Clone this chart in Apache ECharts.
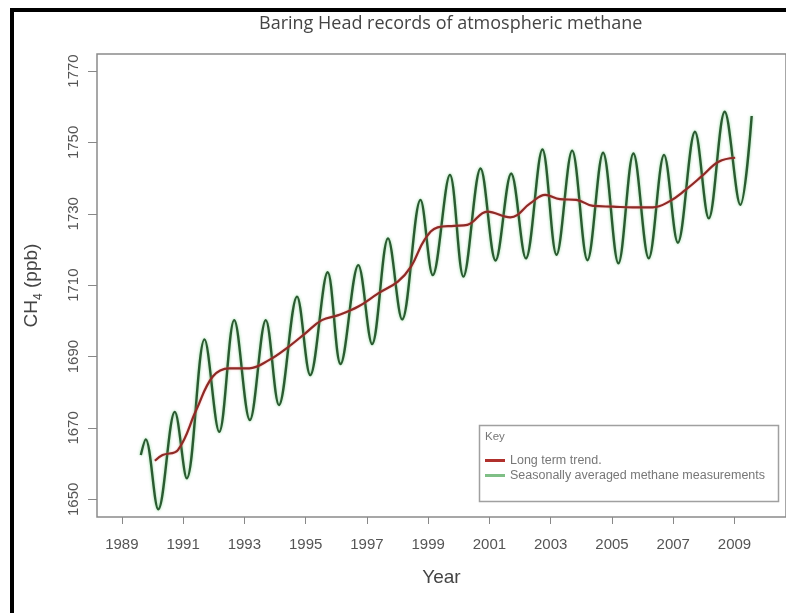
<!DOCTYPE html>
<html>
<head>
<meta charset="utf-8">
<script src="https://cdn.jsdelivr.net/npm/echarts@6/dist/echarts.min.js"></script>
<style>
  html, body { margin: 0; padding: 0; background: #fff; }
  #chart { width: 786px; height: 613px; }
</style>
</head>
<body>
<div id="chart"></div>
<script>
// seasonal curve: turning points (year, ppb)
const seasonalYears = [1989.62, 1989.78, 1990.19, 1990.73, 1991.12, 1991.70, 1992.18, 1992.67, 1993.18, 1993.70,
  1994.13, 1994.72, 1995.15, 1995.72, 1996.14, 1996.72, 1997.17, 1997.69, 1998.15, 1998.75,
  1999.15, 1999.71, 2000.15, 2000.71, 2001.20, 2001.71, 2002.19, 2002.73, 2003.19, 2003.70,
  2004.20, 2004.71, 2005.21, 2005.70, 2006.20, 2006.70, 2007.15, 2007.71, 2008.16, 2008.68,
  2009.19, 2009.56];
const seasonalValues = [1662.4, 1666.8, 1647.2, 1674.5, 1655.9, 1694.8, 1668.9, 1700.2, 1672.2, 1700.2,
  1676.4, 1706.8, 1684.8, 1713.6, 1687.9, 1715.6, 1693.5, 1723.1, 1700.4, 1733.9,
  1712.8, 1740.9, 1712.4, 1742.7, 1716.9, 1741.3, 1717.5, 1748.0, 1718.5, 1747.7,
  1717.0, 1747.1, 1716.1, 1746.9, 1717.5, 1746.5, 1721.9, 1753.0, 1728.7, 1758.6,
  1732.5, 1757.4];

// long term trend
const trendYears = [1990.08, 1990.33, 1990.83, 1991.43, 1991.97, 1992.51, 1993.16, 1993.80, 1994.45, 1994.99,
  1995.53, 1996.07, 1996.72, 1997.37, 1998.01, 1998.44, 1998.88, 1999.31, 1999.85, 2000.28,
  2000.93, 2001.68, 2002.33, 2002.82, 2003.30, 2003.84, 2004.38, 2005.03, 2005.68, 2006.33,
  2006.86, 2007.40, 2007.94, 2008.48, 2009.02];
const trendValues = [1660.8, 1662.4, 1663.8, 1675.0, 1684.4, 1686.7, 1686.7, 1689.0, 1692.8, 1696.5,
  1700.2, 1701.6, 1704.0, 1707.7, 1711.0, 1715.2, 1722.7, 1726.2, 1726.6, 1726.9,
  1730.6, 1729.0, 1732.9, 1735.3, 1734.1, 1733.9, 1732.2, 1732.0, 1731.8, 1731.8,
  1733.4, 1736.7, 1740.6, 1744.6, 1745.7];

const xTicks = [1989, 1991, 1993, 1995, 1997, 1999, 2001, 2003, 2005, 2007, 2009];
const yTicks = [1650, 1670, 1690, 1710, 1730, 1750, 1770];

const seasonalName = 'Seasonally averaged methane measurements';
const trendName = 'Long term trend.';

const zip = (xs, ys) => xs.map((x, i) => [x, ys[i]]);

const font = '"Liberation Sans", Arial, sans-serif';
const chart = echarts.init(document.getElementById('chart'));

const option = {
  animation: false,
  backgroundColor: '#fff',
  title: {
    text: 'Baring Head records of atmospheric methane',
    left: 254,
    top: 10,
    textStyle: { fontFamily: '"Open Sans", sans-serif', fontSize: 18, fontWeight: 'normal', color: '#444' }
  },
  grid: {
    left: 97, top: 54, bottom: 96, right: -6,
    show: true, borderColor: '#8a8a8a', borderWidth: 1.5
  },
  legend: {
    data: [trendName, seasonalName],
    orient: 'vertical',
    left: 485,
    top: 454,
    icon: 'rect',
    itemWidth: 20,
    itemHeight: 3,
    itemGap: 2,
    padding: 0,
    z: 20,
    textStyle: { fontFamily: font, fontSize: 12.5, color: '#777', lineHeight: 13 }
  },
  xAxis: {
    type: 'value',
    min: 1988.19,
    max: 2010.68,
    name: 'Year',
    nameLocation: 'middle',
    nameGap: 51,
    nameTextStyle: { fontFamily: font, fontSize: 19, color: '#444' },
    axisLine: { show: false },
    axisTick: { show: true, length: 7, customValues: xTicks, lineStyle: { color: '#888' } },
    axisLabel: { customValues: xTicks, margin: 20, fontFamily: font, fontSize: 15, color: '#555',
      formatter: v => String(v) },
    splitLine: { show: false }
  },
  yAxis: {
    type: 'value',
    min: 1645.04,
    max: 1774.77,
    name: '{a|CH}{s|4}{a| (ppb)}',
    nameLocation: 'middle',
    nameGap: 52,
    nameRotate: 90,
    nameTextStyle: {
      rich: {
        a: { fontFamily: font, fontSize: 19, color: '#444' },
        s: { fontFamily: font, fontSize: 12, color: '#444', verticalAlign: 'bottom', lineHeight: 26 }
      }
    },
    axisLine: { show: false },
    axisTick: { show: true, length: 9, customValues: yTicks, lineStyle: { color: '#888' } },
    axisLabel: { customValues: yTicks, rotate: 90, margin: 16, fontFamily: font, fontSize: 15, color: '#555',
      formatter: v => String(v) },
    splitLine: { show: false }
  },
  series: [
    {
      name: seasonalName,
      type: 'line',
      data: zip(seasonalYears, seasonalValues),
      showSymbol: false,
      smooth: 0.35,
      lineStyle: { color: '#2b5a31', width: 2.4, shadowColor: 'rgba(90,200,110,0.7)', shadowBlur: 3 },
      itemStyle: { color: '#7fbf86' },
      z: 2
    },
    {
      name: trendName,
      type: 'line',
      data: zip(trendYears, trendValues),
      showSymbol: false,
      smooth: 0.4,
      lineStyle: { color: '#8e2a26', width: 2.2, shadowColor: 'rgba(240,120,120,0.6)', shadowBlur: 2 },
      itemStyle: { color: '#b0302c' },
      z: 3
    }
  ],
  graphic: [
    // outer frame (left and top only, the rest is cropped)
    { type: 'rect', left: 10, top: 8, shape: { width: 4, height: 605 }, style: { fill: '#000' } },
    { type: 'rect', left: 10, top: 8, shape: { width: 776, height: 4 }, style: { fill: '#000' } },
    // key box
    { type: 'rect', left: 477, top: 423, shape: { width: 299, height: 76 }, silent: true,
      style: { fill: 'none', stroke: '#a0a0a0', lineWidth: 1.5 } },
    { type: 'text', left: 485, top: 431, style: { text: 'Key', fontFamily: font, fontSize: 11.5, fill: '#777' } }
  ]
};

chart.setOption(option);
</script>
</body>
</html>
